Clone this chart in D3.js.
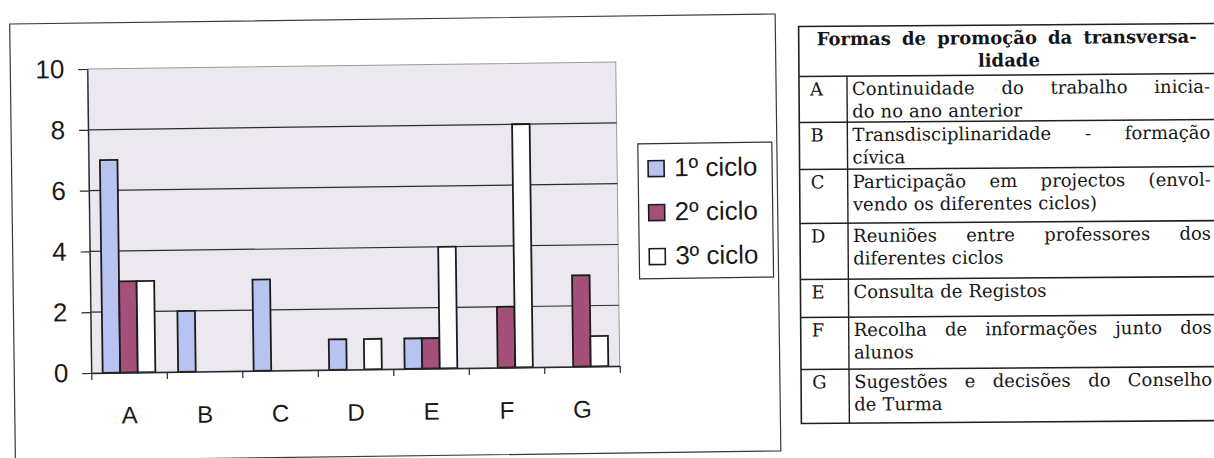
<!DOCTYPE html>
<html>
<head>
<meta charset="utf-8">
<script src="https://cdn.jsdelivr.net/npm/d3@7"></script>
<style>
  html, body { margin: 0; padding: 0; background: #fff; }
  svg { display: block; }
</style>
</head>
<body>
<svg id="fig" width="1214" height="458"></svg>
<script>
// ---- data ----
const categories = ["A", "B", "C", "D", "E", "F", "G"];
const seriesNames = ["1º ciclo", "2º ciclo", "3º ciclo"];
const ciclo1 = [7, 2, 3, 1, 1, 0, 0];
const ciclo2 = [3, 0, 0, 0, 1, 2, 3];
const ciclo3 = [3, 0, 0, 1, 4, 8, 1];
const yTicks = [0, 2, 4, 6, 8, 10];

const tableTitle = ["Formas de promoção da transversa-", "lidade"];
const tableRows = [
  ["Continuidade do trabalho inicia-", "do no ano anterior"],
  ["Transdisciplinaridade - formação", "cívica"],
  ["Participação em projectos (envol-", "vendo os diferentes ciclos)"],
  ["Reuniões entre professores dos", "diferentes ciclos"],
  ["Consulta de Registos"],
  ["Recolha de informações junto dos", "alunos"],
  ["Sugestões e decisões do Conselho", "de Turma"]
];

// ---- styles ----
const colors = ["#b8c3ef", "#a4507b", "#ffffff"];
const sansFont = "'Liberation Sans', Arial, sans-serif";
const serifFont = "'DejaVu Serif', serif";
const serifSize = 18;

const svg = d3.select("#fig");

// ================= bar chart =================
const chart = svg.append("g").attr("transform", "rotate(-0.75,395,236)");

chart.append("rect")
  .attr("x", 12.5).attr("y", 19)
  .attr("width", 765.5).attr("height", 437)
  .attr("fill", "#fff").attr("stroke", "#3a3a3a").attr("stroke-width", 1.2);

const plot = { left: 89.5, right: 618, top: 65, bottom: 369 };

const x = d3.scaleBand().domain(categories).range([plot.left, plot.right]);
const y = d3.scaleLinear().domain([0, 10]).range([plot.bottom, plot.top]);

// plot area
chart.append("rect")
  .attr("x", plot.left).attr("y", plot.top)
  .attr("width", plot.right - plot.left).attr("height", plot.bottom - plot.top)
  .attr("fill", "#ebe8ef")
  .attr("stroke", "#9a9a9a").attr("stroke-width", 1);

// gridlines
chart.append("g")
  .selectAll("line")
  .data(yTicks.filter(v => v > 0 && v < 10))
  .join("line")
  .attr("x1", plot.left).attr("x2", plot.right)
  .attr("y1", d => y(d)).attr("y2", d => y(d))
  .attr("stroke", "#2e2e2e").attr("stroke-width", 1.2);

// bars
const w = x.bandwidth() / 4.3;
const inner = d3.scaleBand().domain([0, 1, 2]).range([0, 3 * w]);
const series = [ciclo1, ciclo2, ciclo3];
const barData = [];
series.forEach((vals, s) => vals.forEach((v, i) => {
  if (v > 0) barData.push({ cat: categories[i], s, v });
}));

chart.append("g")
  .selectAll("rect")
  .data(barData)
  .join("rect")
  .attr("x", d => x(d.cat) + 0.65 * w + inner(d.s))
  .attr("y", d => y(d.v))
  .attr("width", inner.bandwidth())
  .attr("height", d => y(0) - y(d.v))
  .attr("fill", d => colors[d.s])
  .attr("stroke", "#1c1c1c").attr("stroke-width", 1.8);

// y axis
const yAxis = chart.append("g")
  .attr("transform", `translate(${plot.left},0)`)
  .call(d3.axisLeft(y).tickValues(yTicks).tickSize(9).tickPadding(14).tickSizeOuter(0));
yAxis.select(".domain").attr("stroke", "#2a2a2a").attr("stroke-width", 1.3);
yAxis.selectAll(".tick line").attr("stroke", "#2a2a2a").attr("stroke-width", 1.2);
yAxis.selectAll("text")
  .attr("font-family", sansFont).attr("font-size", 26).attr("fill", "#1a1a1a");

// x axis: category labels
const xAxis = chart.append("g")
  .attr("transform", `translate(0,${plot.bottom})`)
  .call(d3.axisBottom(x).tickSize(0).tickPadding(34).tickSizeOuter(0));
xAxis.select(".domain").attr("stroke", "#2a2a2a").attr("stroke-width", 1.5);
xAxis.selectAll("text")
  .attr("font-family", sansFont).attr("font-size", 24).attr("fill", "#1a1a1a");

// x axis: tick marks on category boundaries
const xb = d3.scaleLinear().domain([0, categories.length]).range([plot.left, plot.right]);
const xTickAxis = chart.append("g")
  .attr("transform", `translate(0,${plot.bottom})`)
  .call(d3.axisBottom(xb).ticks(categories.length).tickSize(7).tickFormat(""));
xTickAxis.select(".domain").remove();
xTickAxis.selectAll(".tick line").attr("stroke", "#2a2a2a").attr("stroke-width", 1.2);

// legend
const legend = chart.append("g").attr("transform", "translate(639,147)");
legend.append("rect")
  .attr("width", 134).attr("height", 135)
  .attr("fill", "#fff").attr("stroke", "#333").attr("stroke-width", 1.2);
const items = legend.selectAll("g.item")
  .data(seriesNames)
  .join("g").attr("class", "item")
  .attr("transform", (d, i) => `translate(0,${33 + i * 44})`);
items.append("rect")
  .attr("x", 10).attr("y", -16).attr("width", 16).attr("height", 16)
  .attr("fill", (d, i) => colors[i])
  .attr("stroke", "#1c1c1c").attr("stroke-width", 1.6);
items.append("text")
  .attr("x", 36).attr("y", 0)
  .attr("font-family", sansFont).attr("font-size", 26).attr("fill", "#1a1a1a")
  .text(d => d);

// ================= legend table =================
const table = svg.append("g").attr("transform", "rotate(-0.4,1010,225)");
const tb = { left: 800, right: 1224, top: 25, colX: 848 };
const rowEdges = [25, 75, 121, 168, 222, 278, 316, 368, 422];
const lineStep = 22.5;

function placeLine(g, str, x0, x1, yb, justified, weight) {
  const words = str.split(/\s+/);
  const nodes = words.map(wd => g.append("text")
    .attr("y", yb)
    .attr("font-family", serifFont).attr("font-size", serifSize)
    .attr("font-weight", weight || "normal")
    .attr("fill", "#161616")
    .text(wd));
  const widths = nodes.map(n => n.node().getComputedTextLength());
  const total = d3.sum(widths);
  let gap = widths.length > 1 ? (x1 - x0 - total) / (widths.length - 1) : 0;
  if (!justified) gap = 6;
  let cx = x0;
  nodes.forEach((n, i) => { n.attr("x", cx); cx += widths[i] + gap; });
}

// frame
table.append("rect")
  .attr("x", tb.left).attr("y", tb.top)
  .attr("width", tb.right - tb.left).attr("height", rowEdges[rowEdges.length - 1] - tb.top)
  .attr("fill", "#fff").attr("stroke", "#202020").attr("stroke-width", 1.6);
table.append("g").selectAll("line")
  .data(rowEdges.slice(1, -1))
  .join("line")
  .attr("x1", tb.left).attr("x2", tb.right)
  .attr("y1", d => d).attr("y2", d => d)
  .attr("stroke", "#202020").attr("stroke-width", 1.6);
table.append("line")
  .attr("x1", tb.colX).attr("x2", tb.colX)
  .attr("y1", rowEdges[1]).attr("y2", rowEdges[rowEdges.length - 1])
  .attr("stroke", "#202020").attr("stroke-width", 1.4);

// title
placeLine(table, tableTitle[0], 818, 1198, rowEdges[0] + 19, true, "bold");
table.append("text")
  .attr("x", 1010).attr("y", rowEdges[0] + 19 + lineStep)
  .attr("text-anchor", "middle")
  .attr("font-family", serifFont).attr("font-size", serifSize).attr("font-weight", "bold")
  .attr("fill", "#161616")
  .text(tableTitle[1]);

// rows
tableRows.forEach((lines, r) => {
  const top = rowEdges[r + 1];
  table.append("text")
    .attr("x", 811).attr("y", top + 19)
    .attr("font-family", serifFont).attr("font-size", serifSize).attr("fill", "#161616")
    .text(categories[r]);
  lines.forEach((ln, k) => {
    const justified = k < lines.length - 1;
    placeLine(table, ln, 853, 1211, top + 19 + k * lineStep, justified);
  });
});
</script>
</body>
</html>
